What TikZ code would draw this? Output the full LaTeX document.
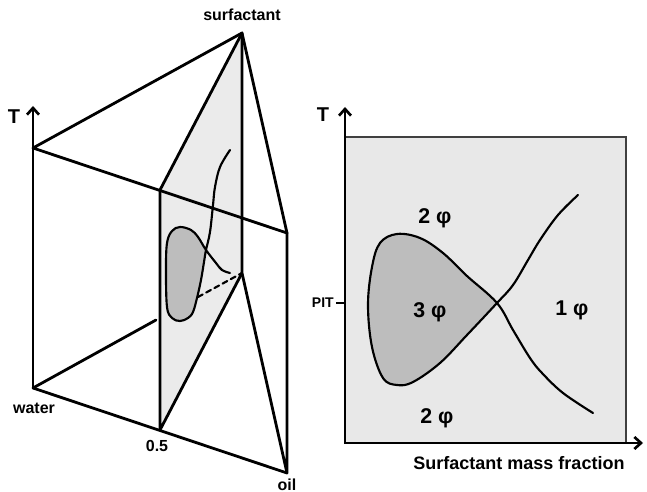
\documentclass[tikz,border=0pt]{standalone}
\usepackage{fontspec}
\setmainfont{Liberation Sans}
\usetikzlibrary{arrows.meta}
\definecolor{planegray}{HTML}{EBEBEB}
\definecolor{blobgray}{HTML}{BDBDBD}
\definecolor{boxgray}{HTML}{E8E8E8}
\begin{document}
\begin{tikzpicture}[x=0.75pt,y=-0.75pt,
  edge/.style={line width=2.1pt, line cap=round, line join=round},
  curve/.style={line width=1.6pt, line cap=round, line join=round},
  lab/.style={font=\bfseries\fontsize{12}{14}\selectfont, inner sep=0pt},
  axlab/.style={font=\bfseries\fontsize{13.5}{16}\selectfont, inner sep=0pt},
  tlab/.style={font=\bfseries\fontsize{15}{17}\selectfont, inner sep=0pt},
  phase/.style={font=\bfseries\fontsize{16}{18}\selectfont, inner sep=0pt},
  barb/.tip={Straight Barb[length=5pt,width=9pt,line width=2pt]}
]
\useasboundingbox (0,0) rectangle (647,492);
% ---------- left: prism ----------
\coordinate (WT) at (33,148);
\coordinate (ST) at (242,33);
\coordinate (OT) at (287,233);
\coordinate (WB) at (33,388);
\coordinate (SB) at (242,273);
\coordinate (OB) at (287,473);
\coordinate (PT) at (160,190);
\coordinate (PB) at (160,430);
\coordinate (WH) at (156,320);
\coordinate (Ttip) at (33,106);
\fill[planegray] (PT) -- (ST) -- (SB) -- (PB) -- cycle;
\draw[edge] (WT) -- (ST) -- (OT) -- cycle;
\draw[edge] (ST) -- (SB) -- (OB) -- (OT);
\draw[edge] (WB) -- (OB);
\draw[edge] (WB) -- (WH);
\draw[edge] (ST) -- (PT) -- (PB) -- (SB);
\draw[edge, -{barb}] (WB) -- (Ttip);
% 3-phase region in the section
\fill[blobgray] plot[smooth cycle, tension=0.6] coordinates {(206,250) (198,237) (191,230) (180,227) (172,231) (167,243) (166,270) (167,307) (172,318) (180,321) (188,318) (193,312) (197,298) (201,280) (204,262)};
\draw[curve] plot[smooth, tension=0.6] coordinates {(230,273) (222,270) (216,263) (206,250) (198,237) (191,230) (180,227) (172,231) (167,243) (166,270) (167,307) (172,318) (180,321) (188,318) (193,312) (197,298) (201,280) (204,262) (206,250) (210,232) (213,205) (215,187) (220,167) (230,150)};
\coordinate (D1) at (198,297);
\draw[curve, dash pattern=on 4pt off 3pt] (D1) -- (SB);
\node[lab] (surf) at (242,15) {surfactant};
\node[tlab] (T1) at (14,117) {T};
\node[lab] (water) at (34,408) {water};
\node[lab] (half) at (157,446) {0.5};
\node[lab, anchor=south] (oil) at (287,491) {oil};
% ---------- right: phase diagram ----------
\coordinate (O) at (345,443);
\coordinate (Ytip) at (345,107);
\coordinate (Xtip) at (643,443);
\fill[boxgray] (345,137) rectangle (626,443);
\draw[line width=0.9pt, black!75] (345,137) -- (626,137) -- (626,443);
\fill[blobgray] plot[smooth, tension=0.6] coordinates {(497,303) (467,276) (443,253) (420,238) (397,234) (380,243) (372,267) (368,305) (372,347) (383,378) (397,385) (413,382) (440,363) (467,335) (497,303)} -- cycle;
\draw[curve] plot[smooth, tension=0.6] coordinates {(593,413) (563,393) (542,373) (530,358) (513,330) (497,303) (467,276) (443,253) (420,238) (397,234) (380,243) (372,267) (368,305) (372,347) (383,378) (397,385) (413,382) (440,363) (467,335) (497,303) (513,285) (528,260) (540,240) (558,215) (578,195)};
\draw[line width=2pt, {barb}-{barb}] (Ytip) -- (O) -- (Xtip);
\coordinate (PITa) at (336,303);
\coordinate (PITb) at (345,303);
\draw[line width=1.3pt] (PITa) -- (PITb);
\node[font=\bfseries\fontsize{10.5}{12}\selectfont, inner sep=0pt, anchor=east] (pit) at (334,303) {PIT};
\node[tlab] (T2) at (323,115) {T};
\node[phase] (p2a) at (435,218) {2 φ};
\node[phase] (p3) at (430,312) {3 φ};
\node[phase] (p1) at (572,310) {1 φ};
\node[phase] (p2b) at (437,418) {2 φ};
\node[axlab] (xl) at (519,463) {Surfactant mass fraction};
\end{tikzpicture}
\end{document}
